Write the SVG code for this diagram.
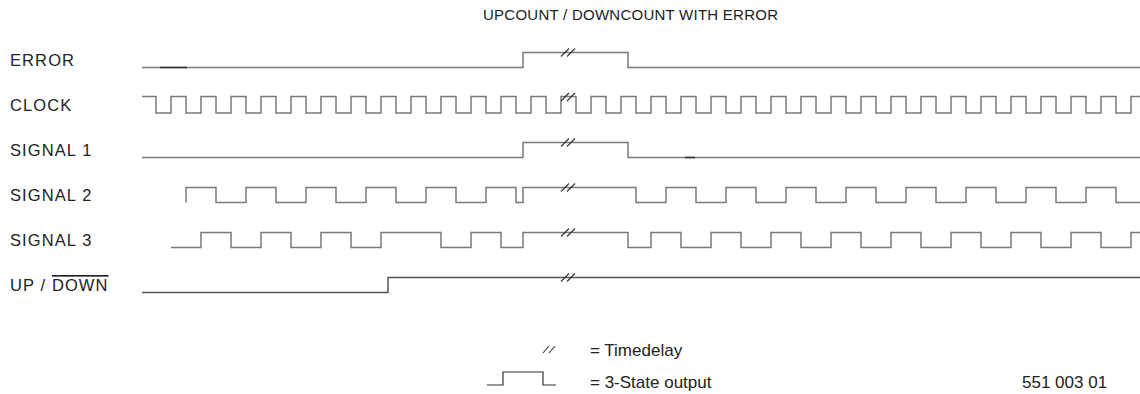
<svg xmlns="http://www.w3.org/2000/svg" width="1140" height="394" viewBox="0 0 1140 394">
<defs>
<style>
.ttl{font-family:"Liberation Sans",Arial,sans-serif;font-size:15px;letter-spacing:0.25px;fill:#222}
.lbl{font-family:"Liberation Sans",Arial,sans-serif;font-size:16.5px;letter-spacing:1.1px;fill:#222}
.leg{font-family:"Liberation Sans",Arial,sans-serif;font-size:17px;fill:#222}
.w{fill:none;stroke:#7a7a7a;stroke-width:1.5}
.td{fill:none;stroke:#333;stroke-width:1.1}
.dk{fill:none;stroke:#333;stroke-width:1.6}
</style>
<g id="tdmark"><path class="td" d="M-7,4 L1,-4 M-1,4 L7,-4"/></g>
</defs>
<rect width="1140" height="394" fill="#fff"/>
<text class="ttl" x="483" y="20">UPCOUNT / DOWNCOUNT WITH ERROR</text>

<g id="error">
<text class="lbl" x="10" y="66">ERROR</text>
<path class="w" d="M142,67.5 H523 V52.5 H628 V67.5 H1140"/>
<path class="dk" d="M160,67.5 H187"/>
<use href="#tdmark" x="568" y="52.5"/>
</g>

<g id="clock">
<text class="lbl" x="10" y="111">CLOCK</text>
<path class="w" d="M142,96.5 H156 V113 H171 V96.5 H186 V113 H201 V96.5 H216 V113 H231 V96.5 H246 V113 H261 V96.5 H276 V113 H291 V96.5 H306 V113 H321 V96.5 H336 V113 H351 V96.5 H366 V113 H381 V96.5 H396 V113 H411 V96.5 H426 V113 H441 V96.5 H456 V113 H471 V96.5 H486 V113 H501 V96.5 H516 V113 H531 V96.5 H546 V113 H561 V96.5 H576 V113 H591 V96.5 H606 V113 H621 V96.5 H636 V113 H651 V96.5 H666 V113 H681 V96.5 H696 V113 H711 V96.5 H726 V113 H741 V96.5 H756 V113 H771 V96.5 H786 V113 H801 V96.5 H816 V113 H831 V96.5 H846 V113 H861 V96.5 H876 V113 H891 V96.5 H906 V113 H921 V96.5 H936 V113 H951 V96.5 H966 V113 H981 V96.5 H996 V113 H1011 V96.5 H1026 V113 H1041 V96.5 H1056 V113 H1071 V96.5 H1086 V113 H1101 V96.5 H1116 V113 H1131 V96.5 H1140"/>
<use href="#tdmark" x="568" y="97"/>
</g>

<g id="signal1">
<text class="lbl" x="10" y="156">SIGNAL 1</text>
<path class="w" d="M142,157.5 H523 V142.5 H628 V157.5 H1140"/>
<path class="dk" d="M685,157.5 H695"/>
<use href="#tdmark" x="568" y="142.5"/>
</g>

<g id="signal2">
<text class="lbl" x="10" y="201">SIGNAL 2</text>
<path class="w" d="M186,202.5 V187.5 H216 V202.5 H246 V187.5 H276 V202.5 H306 V187.5 H336 V202.5 H366 V187.5 H396 V202.5 H426 V187.5 H456 V202.5 H486 V187.5 H516 V202.5 H523 V187.5 H636 V202.5 H666 V187.5 H696 V202.5 H726 V187.5 H756 V202.5 H786 V187.5 H816 V202.5 H846 V187.5 H876 V202.5 H906 V187.5 H936 V202.5 H966 V187.5 H996 V202.5 H1026 V187.5 H1056 V202.5 H1086 V187.5 H1116 V202.5 H1140"/>
<use href="#tdmark" x="568" y="187.5"/>
</g>

<g id="signal3">
<text class="lbl" x="10" y="246">SIGNAL 3</text>
<path class="w" d="M171,247.5 H201 V232.5 H231 V247.5 H261 V232.5 H291 V247.5 H321 V232.5 H351 V247.5 H381 V232.5 H441 V247.5 H471 V232.5 H501 V247.5 H523 V232.5 H628 V247.5 H651 V232.5 H681 V247.5 H711 V232.5 H741 V247.5 H771 V232.5 H801 V247.5 H831 V232.5 H861 V247.5 H891 V232.5 H921 V247.5 H951 V232.5 H981 V247.5 H1011 V232.5 H1041 V247.5 H1071 V232.5 H1101 V247.5 H1131 V232.5 H1140"/>
<use href="#tdmark" x="568" y="232.5"/>
</g>

<g id="updown">
<text class="lbl" x="10" y="291">UP / <tspan text-decoration="overline">DOWN</tspan></text>
<path class="w" d="M142,292.5 H388 V277.5 H1140" style="stroke:#555"/>
<use href="#tdmark" x="568" y="277.5"/>
</g>

<g id="legend">
<path class="td" d="M543,353 L549,346 M549,353 L555,346"/>
<text class="leg" x="590" y="355.5">= Timedelay</text>
<path class="w" d="M487,385 H503 V372 H543 V385 H556" style="stroke:#333;stroke-width:1.2"/>
<text class="leg" x="590" y="388">= 3-State output</text>
</g>

<text class="leg" x="1022" y="388">551 003 01</text>
</svg>
